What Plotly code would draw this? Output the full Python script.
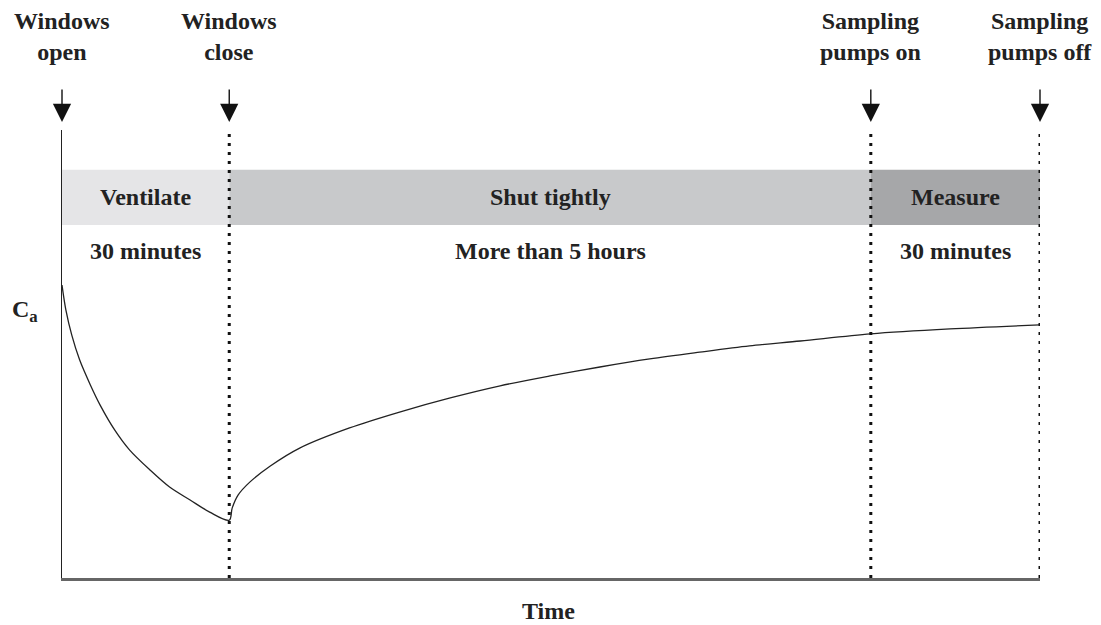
import plotly.graph_objects as go

# ---- data (schematic, normalised time 0..1, concentration 0..1) ----
event_times = [0.0, 0.171, 0.827, 1.0]
event_labels = ["Windows<br>open", "Windows<br>close", "Sampling<br>pumps on", "Sampling<br>pumps off"]

phase_starts = [0.0, 0.171, 0.827]
phase_ends = [0.171, 0.827, 1.0]
phase_names = ["Ventilate", "Shut tightly", "Measure"]
phase_durations = ["30 minutes", "More than 5 hours", "30 minutes"]
phase_colors = ["#e5e5e7", "#c8c9cb", "#a6a7a9"]

decay_t = [0.000, 0.004, 0.010, 0.018, 0.029, 0.039, 0.054, 0.069, 0.090, 0.110, 0.131, 0.151, 0.171]
decay_c = [0.654, 0.598, 0.542, 0.487, 0.431, 0.386, 0.330, 0.286, 0.241, 0.203, 0.174, 0.147, 0.129]
rise_t = [0.171, 0.174, 0.180, 0.192, 0.213, 0.243, 0.294, 0.346, 0.397, 0.448, 0.499, 0.550,
          0.601, 0.652, 0.703, 0.755, 0.827, 0.908, 1.000]
rise_c = [0.129, 0.156, 0.185, 0.214, 0.250, 0.290, 0.335, 0.371, 0.402, 0.429, 0.451, 0.471,
          0.489, 0.504, 0.518, 0.529, 0.545, 0.556, 0.565]

FONT = "Liberation Serif"
FS = 24
TXT = "#222222"

fig = go.Figure()
fig.add_trace(go.Scatter(x=decay_t + rise_t[1:], y=decay_c + rise_c[1:], mode="lines",
                         line=dict(color="#222222", width=1.3, shape="spline", smoothing=0.9),
                         hoverinfo="skip", showlegend=False))

shapes = []
for s, e, col in zip(phase_starts, phase_ends, phase_colors):
    shapes.append(dict(type="rect", xref="x", yref="y", x0=s, x1=e, y0=0.788, y1=0.911,
                       fillcolor=col, line=dict(width=0), layer="below"))
for t in event_times[1:]:
    shapes.append(dict(type="line", xref="x", yref="y", x0=t, x1=t, y0=0.0, y1=1.0,
                       line=dict(color="#111111", width=3, dash="3px,6px"), layer="above"))

annotations = []
for t, lab in zip(event_times, event_labels):
    annotations.append(dict(x=t, y=1.018, xref="x", yref="paper", text="", showarrow=True,
                            ax=0, ay=-34, arrowhead=2, arrowsize=2.6, arrowwidth=1.4,
                            arrowcolor="#111111", standoff=0, startstandoff=0))
    annotations.append(dict(x=t, y=1.208, xref="x", yref="paper", text=f"<b>{lab}</b>",
                            showarrow=False, yanchor="middle", xanchor="center",
                            font=dict(family=FONT, size=FS, color=TXT)))
for s, e, name, dur in zip(phase_starts, phase_ends, phase_names, phase_durations):
    mid = (s + e) / 2
    annotations.append(dict(x=mid, y=0.850, xref="x", yref="y", text=f"<b>{name}</b>",
                            showarrow=False, xanchor="center", yanchor="middle",
                            font=dict(family=FONT, size=FS, color=TXT)))
    annotations.append(dict(x=mid, y=0.730, xref="x", yref="y", text=f"<b>{dur}</b>",
                            showarrow=False, xanchor="center", yanchor="middle",
                            font=dict(family=FONT, size=FS, color=TXT)))
annotations.append(dict(x=-0.038, y=0.596, xref="paper", yref="paper",
                        text="<b>C<sub>a</sub></b>", showarrow=False,
                        xanchor="center", yanchor="middle",
                        font=dict(family=FONT, size=FS, color=TXT)))
annotations.append(dict(x=0.497, y=-0.074, xref="paper", yref="paper", text="<b>Time</b>",
                        showarrow=False, xanchor="center", yanchor="middle",
                        font=dict(family=FONT, size=FS, color=TXT)))

fig.update_layout(
    width=1085, height=617,
    margin=dict(l=54, r=53, t=122, b=47),
    paper_bgcolor="white", plot_bgcolor="white",
    shapes=shapes, annotations=annotations,
    xaxis=dict(range=[0, 1], showgrid=False, zeroline=False, showticklabels=False, ticks="",
               showline=True, linecolor="#666666", linewidth=2.5),
    yaxis=dict(range=[0, 1], showgrid=False, zeroline=False, showticklabels=False, ticks="",
               showline=True, linecolor="#222222", linewidth=1.2),
)

fig.write_html("out.html")
